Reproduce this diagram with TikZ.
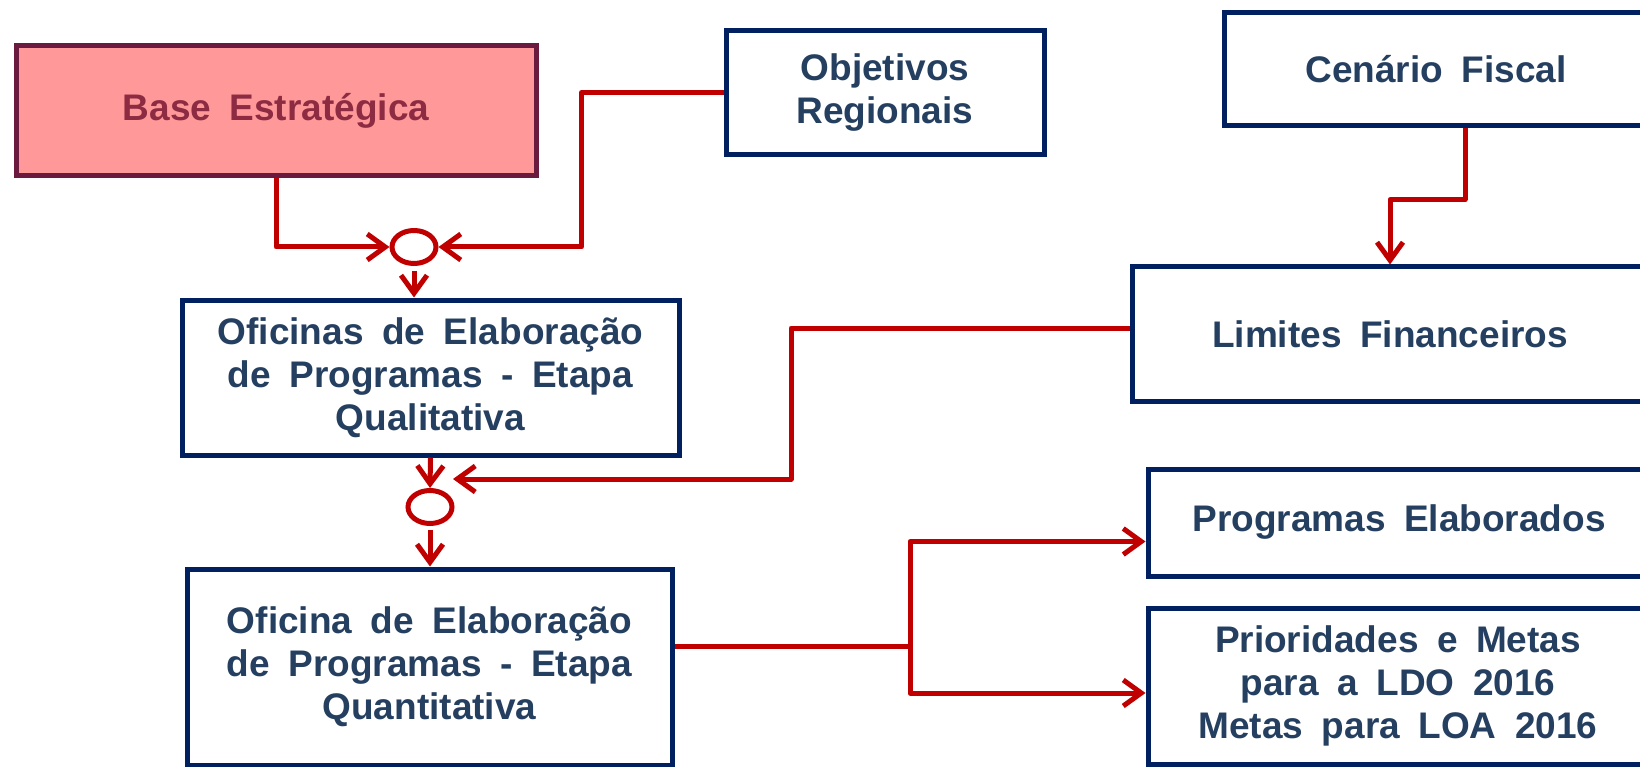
\documentclass[tikz,border=0pt]{standalone}
\usepackage{fontspec}
\setmainfont{Liberation Sans}[WordSpace=1.8]
\usetikzlibrary{arrows.meta,positioning,shapes}
\definecolor{navy}{RGB}{0,32,96}
\definecolor{txt}{RGB}{36,63,96}
\definecolor{linkred}{RGB}{192,0,0}
\definecolor{pinkfill}{RGB}{255,153,153}
\definecolor{maroon}{RGB}{107,26,63}
\definecolor{maroontxt}{RGB}{140,43,66}
\begin{document}
\begin{tikzpicture}[x=1pt, y=-1pt, >={Straight Barb[length=18pt,width=26pt]},
    every node/.style={font=\bfseries\fontsize{37}{43}\selectfont, text=txt, align=center},
    box/.style={draw=navy, line width=5pt, fill=white, inner sep=0pt},
    junc/.style={ellipse, draw=linkred, line width=5pt, fill=white, inner sep=0pt,
        minimum width=44pt, minimum height=33pt},
    conn/.style={->, draw=linkred, line width=5pt, line join=round},
    link/.style={draw=linkred, line width=5pt}
    ]
\useasboundingbox (0,0) rectangle (1640,767);
\clip (0,0) rectangle (1640,767);
% boxes
\node[box, draw=maroon, fill=pinkfill, text=maroontxt, minimum width=520pt, minimum height=130pt]
    (base) at (276,111) {Base Estratégica};
\node[box, minimum width=318pt, minimum height=124pt] (obj)  at (885,92.5) {Objetivos\\Regionais};
\node[box, minimum width=424pt, minimum height=113pt] (cen)  at (1436,69.5) {Cenário Fiscal};
\node[box, minimum width=515pt, minimum height=134pt] (lim)  at (1390,334) {Limites Financeiros};
\node[box, minimum width=497pt, minimum height=155pt] (qual) at (430.5,377.5)
    {Oficinas de Elaboração\\de Programas - Etapa\\Qualitativa};
\node[box, minimum width=485pt, minimum height=196pt] (quan) at (429.5,667)
    {Oficina de Elaboração\\de Programas - Etapa\\Quantitativa};
\node[box, minimum width=502pt, minimum height=107pt] (prog) at (1399,522.5) {Programas Elaborados};
\node[box, minimum width=500pt, minimum height=156pt] (prio) at (1398,686)
    {Prioridades e Metas\\para a LDO 2016\\Metas para LOA 2016};
% junctions
\node[junc] (c1) at (414,247) {};
\node[junc] (c2) at (430,507) {};
\coordinate (limtip) at (453,479);
\coordinate (split) at (910,646);
% links
\draw[conn] (base.south) |- (c1.west);
\draw[conn] (obj.west) -- ++(-142,0) |- (c1.east);
\draw[conn, shorten <=5pt] (c1.south) -- (c1.south |- qual.north);
\draw[conn] (qual.south) -- (c2.north);
\draw[conn, shorten <=4pt] (c2.south) -- (c2.south |- quan.north);
\draw[conn] ([xshift=29pt]cen.south) -- ++(0,71) -| (lim.north);
\draw[conn] ([yshift=6pt]lim.west) -- ++(-339,0) |- (limtip);
\draw[link] ([yshift=21pt]quan.east) -- (split);
\draw[conn] (split) |- ([yshift=-19pt]prog.west);
\draw[conn] (split) |- ([yshift=-7pt]prio.west);
\end{tikzpicture}
\end{document}
